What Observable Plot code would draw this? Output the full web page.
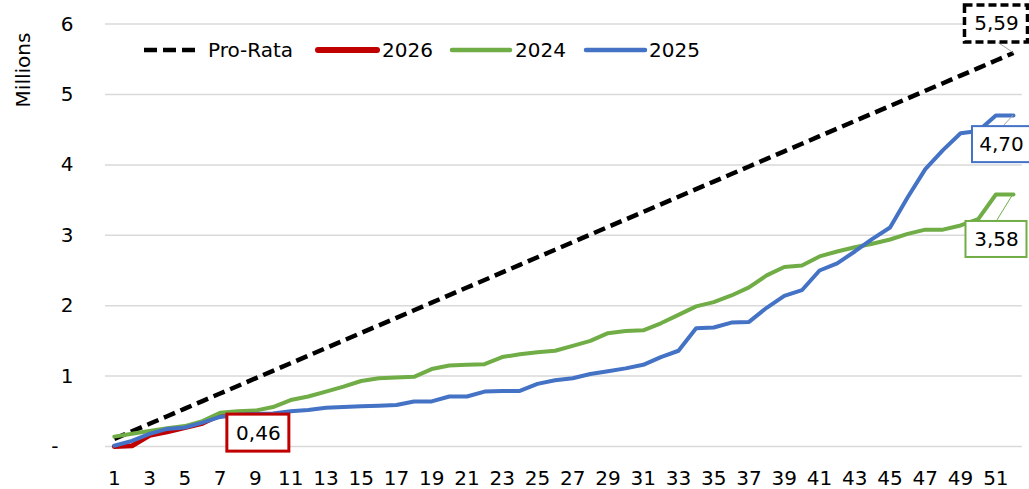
<!DOCTYPE html>
<html><head><meta charset="utf-8">
<script src="https://cdn.jsdelivr.net/npm/d3@7"></script>
<script src="https://cdn.jsdelivr.net/npm/@observablehq/plot@0.6"></script>
<style>html,body{margin:0;padding:0;background:#fff;} svg{display:block;}</style>
</head><body><div id="chart"></div>
<script>
// ---- data ----
const weeks = d3.range(1, 53);
const xTickLabels = d3.range(1, 52, 2);
const yTickLabels = [1, 2, 3, 4, 5, 6];
const yZeroLabel = "-";
const yTitle = "Millions";
const seriesNames = ["Pro-Rata", "2026", "2024", "2025"];
const seriesColors = ["#000000", "#C00000", "#70AD47", "#4472C4"];

const proRata = [0.108,0.215,0.323,0.430,0.538,0.645,0.753,0.860,0.968,1.075,1.183,1.290,1.398,1.505,1.613,1.720,1.828,1.935,2.043,2.150,2.258,2.365,2.473,2.580,2.688,2.795,2.903,3.010,3.118,3.225,3.333,3.440,3.548,3.655,3.763,3.870,3.978,4.085,4.193,4.300,4.408,4.515,4.623,4.730,4.838,4.945,5.053,5.160,5.268,5.375,5.483,5.590];
const y2026 = [0.00,0.01,0.16,0.21,0.27,0.33,0.45,0.46,0.46];
const y2024 = [0.14,0.18,0.22,0.26,0.29,0.36,0.48,0.50,0.51,0.56,0.66,0.71,0.78,0.85,0.93,0.97,0.98,0.99,1.10,1.15,1.16,1.17,1.27,1.31,1.34,1.36,1.43,1.50,1.61,1.64,1.65,1.75,1.87,1.99,2.05,2.145,2.26,2.43,2.55,2.57,2.70,2.77,2.83,2.88,2.94,3.02,3.08,3.08,3.14,3.23,3.58,3.58];
const y2025 = [0.01,0.08,0.18,0.25,0.27,0.34,0.42,0.45,0.46,0.47,0.50,0.52,0.55,0.56,0.57,0.58,0.59,0.64,0.64,0.71,0.71,0.78,0.79,0.79,0.89,0.94,0.97,1.03,1.07,1.11,1.16,1.27,1.36,1.68,1.69,1.76,1.77,1.97,2.14,2.22,2.50,2.60,2.77,2.95,3.11,3.54,3.94,4.21,4.45,4.48,4.70,4.70];
const seriesValues = [proRata, y2026, y2024, y2025];

const labelSeries = ["2026", "Pro-Rata", "2025", "2024"];
const labelWeeks = [9, 52, 52, 52];
const labelValues = [0.46, 5.59, 4.70, 3.58];
const labelTexts = ["0,46", "5,59", "4,70", "3,58"];

// ---- styling (positions / sizes kept apart from data) ----
const FONT = "DejaVu Sans";
const lineWidths = {"Pro-Rata": 4.5, "2026": 5, "2024": 4, "2025": 4};
const labelStyle = [
  {dx: 3,   dy: 19, w: 62, h: 37, bw: 3,   dash: null,  lead: null},
  {dx: -17, dy: -29, w: 63, h: 37, bw: 3.5, dash: "8,4", lead: [-15, -10]},
  {dx: -12, dy: 29, w: 58, h: 36, bw: 2,   dash: null,  lead: [-10, 11]},
  {dx: -17, dy: 45, w: 61, h: 36, bw: 2,   dash: null,  lead: [-16, 26]}
];

const rows = [];
seriesNames.forEach((s, i) => {
  seriesValues[i].forEach((v, j) => rows.push({series: s, week: weeks[j], value: v}));
});
const labels = labelTexts.map((t, i) => ({series: labelSeries[i], week: labelWeeks[i], value: labelValues[i], text: t}));

const marks = [
  Plot.gridY([0, ...yTickLabels], {stroke: "#D9D9D9", strokeOpacity: 1, strokeWidth: 1.5}),
  ...seriesNames.map((s, i) => Plot.line(rows.filter(r => r.series === s), {
    x: "week", y: "value", stroke: seriesColors[i], strokeWidth: lineWidths[s],
    strokeDasharray: s === "Pro-Rata" ? "12,6" : null,
    strokeLinecap: s === "Pro-Rata" ? "butt" : "round", strokeLinejoin: "round"
  })),
  Plot.axisY(yTickLabels, {tickSize: 0, tickPadding: 32, fontSize: 20, label: null, tickFormat: d => String(d)}),
  Plot.axisY([0], {tickSize: 0, tickPadding: 47, fontSize: 20, label: null, tickFormat: () => yZeroLabel}),
  Plot.axisX(xTickLabels, {tickSize: 0, tickPadding: 24, fontSize: 20, label: null, tickFormat: d => String(d)}),
  ...labels.map((l, i) => Plot.text([l], {
    x: "week", y: "value", text: "text", dx: labelStyle[i].dx, dy: labelStyle[i].dy,
    fontSize: 20, fill: "#000", lineAnchor: "middle", textAnchor: "middle",
    className: "endlab" + i
  }))
];

const plot = Plot.plot({
  width: 1029, height: 489,
  marginLeft: 105, marginRight: 7.2, marginTop: 23.6, marginBottom: 43,
  x: {type: "linear", domain: [0.5, 52.5]},
  y: {domain: [0, 6]},
  style: {fontFamily: FONT, fontSize: "20px", background: "#fff", color: "#000"},
  marks
});
document.getElementById("chart").appendChild(plot);

// ---- label boxes & leader lines, using the plot's own scales ----
const sx = plot.scale("x"), sy = plot.scale("y");
const svg = d3.select(plot);
labels.forEach((l, i) => {
  const st = labelStyle[i];
  const color = seriesColors[seriesNames.indexOf(l.series)];
  const g = plot.querySelector("g.endlab" + i);
  if (!g) return;
  const px = sx.apply(l.week), py = sy.apply(l.value);
  const cx = px + st.dx, cy = py + st.dy;
  const ns = "http://www.w3.org/2000/svg";
  if (st.lead) {
    const ln = document.createElementNS(ns, "line");
    ln.setAttribute("x1", px + st.lead[0]); ln.setAttribute("y1", py + st.lead[1]);
    ln.setAttribute("x2", px); ln.setAttribute("y2", py);
    ln.setAttribute("stroke", l.series === "2024" ? color : "#A6A6A6");
    ln.setAttribute("stroke-width", 1);
    g.parentNode.insertBefore(ln, g);
  }
  const r = document.createElementNS(ns, "rect");
  r.setAttribute("x", cx - st.w / 2); r.setAttribute("y", cy - st.h / 2);
  r.setAttribute("width", st.w); r.setAttribute("height", st.h);
  r.setAttribute("fill", "#fff"); r.setAttribute("stroke", color);
  r.setAttribute("stroke-width", st.bw);
  if (st.dash) r.setAttribute("stroke-dasharray", st.dash);
  g.parentNode.insertBefore(r, g);
});

// ---- y title ----
svg.append("text")
  .attr("transform", "translate(23,70) rotate(-90)")
  .attr("text-anchor", "middle").attr("dominant-baseline", "central")
  .attr("font-family", FONT).attr("font-size", 20).attr("fill", "#000")
  .text(yTitle);

// ---- legend ----
const legendPos = [[144, 198, 208], [318, 377, 382], [452, 510, 515], [586, 645, 649]];
const leg = svg.append("g").attr("font-family", FONT).attr("font-size", 20).attr("text-anchor", "start");
seriesNames.forEach((s, i) => {
  const [a, b, t] = legendPos[i];
  leg.append("line").attr("x1", a).attr("x2", b).attr("y1", 50).attr("y2", 50)
    .attr("stroke", seriesColors[i]).attr("stroke-width", s === "2026" ? 6 : 4.5)
    .attr("stroke-linecap", s === "Pro-Rata" ? "butt" : "round")
    .attr("stroke-dasharray", s === "Pro-Rata" ? "13,6" : null);
  leg.append("text").attr("x", t).attr("y", 50).attr("dominant-baseline", "central")
    .attr("text-anchor", "start").attr("fill", "#000").text(s);
});
</script>
</body></html>
